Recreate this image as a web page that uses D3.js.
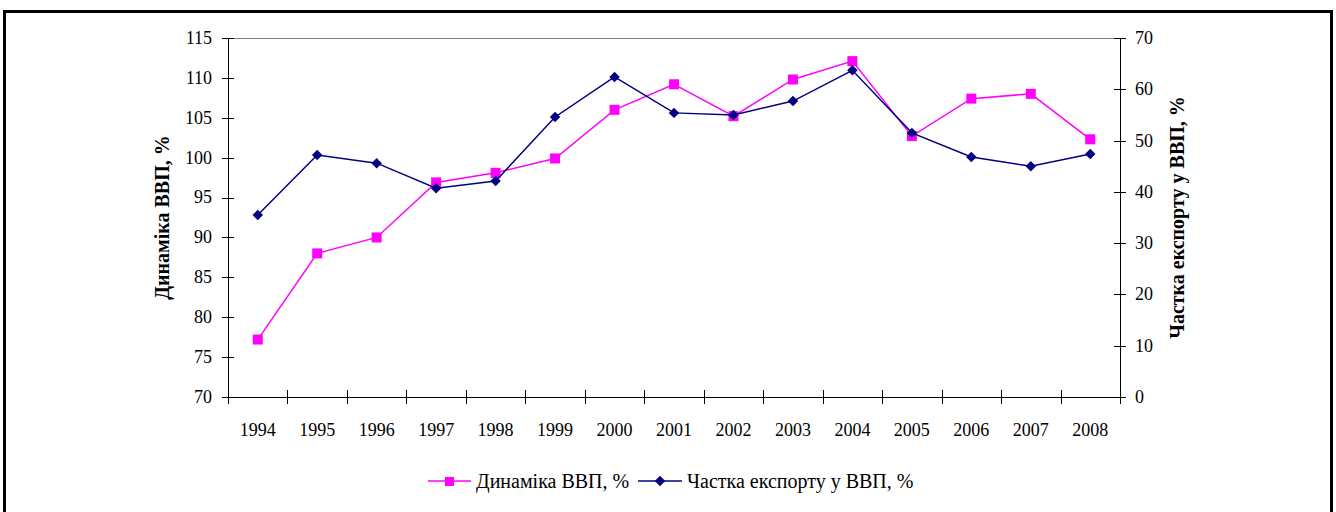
<!DOCTYPE html>
<html>
<head>
<meta charset="utf-8">
<script src="https://cdn.jsdelivr.net/npm/d3@7"></script>
<style>
  body { margin: 0; background: #fff; }
</style>
</head>
<body>
<svg id="chart" width="1336" height="512" font-family="'Liberation Serif', 'Times New Roman', 'DejaVu Serif', serif"></svg>
<script>
// data
const years = ["1994", "1995", "1996", "1997", "1998", "1999", "2000", "2001",
  "2002", "2003", "2004", "2005", "2006", "2007", "2008"];
const gdp_dynamics = [77.2, 88.0, 90.0, 96.9, 98.1, 99.9, 106.0, 109.2,
  105.2, 109.8, 112.1, 102.7, 107.4, 108.0, 102.3];
const export_share = [35.5, 47.2, 45.6, 40.7, 42.1, 54.6, 62.4, 55.4,
  55.0, 57.7, 63.7, 51.5, 46.8, 45.0, 47.4];
const left_ticks = [70, 75, 80, 85, 90, 95, 100, 105, 110, 115];
const right_ticks = [0, 10, 20, 30, 40, 50, 60, 70];

const pink = "#ff00ff", navy = "#000080";

const svg = d3.select("#chart");

// outer frame
svg.append("rect")
  .attr("x", 4.5).attr("y", 11.5)
  .attr("width", 1327).attr("height", 530)
  .attr("fill", "none").attr("stroke", "#000").attr("stroke-width", 3);

const pLeft = 228, pRight = 1120, pTop = 38, pBottom = 397;

const x = d3.scaleBand().domain(years).range([pLeft, pRight]);
const yL = d3.scaleLinear().domain([70, 115]).range([pBottom, pTop]);
const yR = d3.scaleLinear().domain([0, 70]).range([pBottom, pTop]);

// top border of plot area
svg.append("line")
  .attr("x1", pLeft).attr("x2", pRight).attr("y1", pTop + 0.5).attr("y2", pTop + 0.5)
  .attr("stroke", "#808080").attr("stroke-width", 1);

// left axis
const gl = svg.append("g");
gl.append("line").attr("x1", pLeft + 0.5).attr("x2", pLeft + 0.5)
  .attr("y1", pTop).attr("y2", pBottom).attr("stroke", "#000");
gl.selectAll(".t").data(left_ticks).enter().append("line")
  .attr("x1", pLeft - 6).attr("x2", pLeft + 6)
  .attr("y1", d => Math.round(yL(d)) + 0.5).attr("y2", d => Math.round(yL(d)) + 0.5)
  .attr("stroke", "#000");
gl.selectAll("text").data(left_ticks).enter().append("text")
  .attr("x", pLeft - 16).attr("y", d => yL(d))
  .attr("dy", "0.33em").attr("text-anchor", "end")
  .attr("font-size", 18).text(d => d);

// right axis
const gr = svg.append("g");
gr.append("line").attr("x1", pRight + 0.5).attr("x2", pRight + 0.5)
  .attr("y1", pTop).attr("y2", pBottom).attr("stroke", "#000");
gr.selectAll(".t").data(right_ticks).enter().append("line")
  .attr("x1", pRight - 6).attr("x2", pRight + 6)
  .attr("y1", d => Math.round(yR(d)) + 0.5).attr("y2", d => Math.round(yR(d)) + 0.5)
  .attr("stroke", "#000");
gr.selectAll("text").data(right_ticks).enter().append("text")
  .attr("x", pRight + 15).attr("y", d => yR(d))
  .attr("dy", "0.33em").attr("text-anchor", "start")
  .attr("font-size", 18).text(d => d);

// x axis, ticks between categories
const gx = svg.append("g");
gx.append("line").attr("x1", pLeft).attr("x2", pRight)
  .attr("y1", pBottom + 0.5).attr("y2", pBottom + 0.5).attr("stroke", "#000");
const bounds = years.map(d => x(d)).concat([pRight]);
gx.selectAll(".t").data(bounds).enter().append("line")
  .attr("x1", d => Math.round(d) + 0.5).attr("x2", d => Math.round(d) + 0.5)
  .attr("y1", pBottom - 7).attr("y2", pBottom + 7)
  .attr("stroke", "#000");
gx.selectAll("text").data(years).enter().append("text")
  .attr("x", d => x(d) + x.bandwidth() / 2).attr("y", pBottom + 39)
  .attr("text-anchor", "middle").attr("font-size", 18).text(d => d);

// axis titles
svg.append("text")
  .attr("transform", `translate(169,${(pTop + pBottom) / 2}) rotate(-90)`)
  .attr("text-anchor", "middle").attr("font-size", 20).attr("font-weight", "bold")
  .text("Динаміка ВВП, %");
svg.append("text")
  .attr("transform", `translate(1184,${(pTop + pBottom) / 2}) rotate(-90)`)
  .attr("text-anchor", "middle").attr("font-size", 20).attr("font-weight", "bold")
  .text("Частка експорту у ВВП, %");

const cx = (d, i) => x(years[i]) + x.bandwidth() / 2;

// pink series
svg.append("path")
  .attr("d", d3.line().x(cx).y(d => yL(d))(gdp_dynamics))
  .attr("fill", "none").attr("stroke", pink).attr("stroke-width", 1.5);
svg.selectAll(".sq").data(gdp_dynamics).enter().append("rect")
  .attr("x", (d, i) => cx(d, i) - 5).attr("y", d => yL(d) - 5)
  .attr("width", 10).attr("height", 10).attr("fill", pink);

// navy series
svg.append("path")
  .attr("d", d3.line().x(cx).y(d => yR(d))(export_share))
  .attr("fill", "none").attr("stroke", navy).attr("stroke-width", 1.5);
const diamond = d3.symbol().type(d3.symbolDiamond2).size(70);
svg.selectAll(".dm").data(export_share).enter().append("path")
  .attr("d", diamond)
  .attr("transform", (d, i) => `translate(${cx(d, i)},${yR(d)})`)
  .attr("fill", navy);

// legend
const lg = svg.append("g").attr("transform", "translate(0,481)");
lg.append("line").attr("x1", 428).attr("x2", 471).attr("y1", 0).attr("y2", 0)
  .attr("stroke", pink).attr("stroke-width", 1.5);
lg.append("rect").attr("x", 445).attr("y", -4).attr("width", 9).attr("height", 9).attr("fill", pink);
lg.append("text").attr("x", 476).attr("y", 0).attr("dy", "0.33em")
  .attr("font-size", 20).text("Динаміка ВВП, %");
lg.append("line").attr("x1", 638).attr("x2", 682).attr("y1", 0).attr("y2", 0)
  .attr("stroke", navy).attr("stroke-width", 1.5);
lg.append("path").attr("d", diamond).attr("transform", "translate(660,0)")
  .attr("fill", navy);
lg.append("text").attr("x", 687).attr("y", 0).attr("dy", "0.33em")
  .attr("font-size", 20).text("Частка експорту у ВВП, %");
</script>
</body>
</html>
